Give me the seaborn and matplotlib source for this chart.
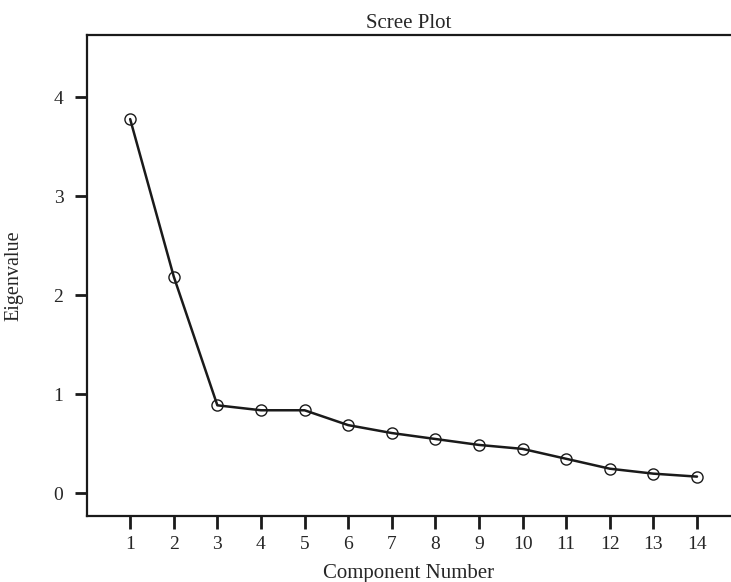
import numpy as np
import pandas as pd
import matplotlib
matplotlib.use("Agg")
import matplotlib.pyplot as plt
import seaborn as sns

components = list(range(1, 15))
eigenvalues = [3.78, 2.19, 0.89, 0.84, 0.84, 0.69, 0.61, 0.55, 0.49, 0.45, 0.35, 0.25, 0.20, 0.17]

sns.set_style("ticks")
plt.rcParams["font.family"] = ["Liberation Serif", "DejaVu Serif"]

df = pd.DataFrame({"Component Number": components, "Eigenvalue": eigenvalues})

fig = plt.figure(figsize=(7.31, 5.82), dpi=100)
ax = fig.add_axes([0.119, 0.113, 0.881, 0.827])

sns.lineplot(data=df, x="Component Number", y="Eigenvalue", ax=ax,
             color="#1a1a1a", linewidth=1.8, marker="o", markersize=8,
             markerfacecolor="none", markeredgecolor="#1a1a1a", markeredgewidth=1.0)

ax.set_xlim(0.01, 14.78)
ax.set_ylim(-0.23, 4.63)
ax.set_xticks(components)
ax.set_yticks([0, 1, 2, 3, 4])
ax.tick_params(axis="both", labelsize=14, length=9, width=2, color="#1a1a1a")
ax.tick_params(axis="x", pad=5)
ax.tick_params(axis="y", pad=8)

for side in ["left", "bottom", "top"]:
    ax.spines[side].set_linewidth(1.6)
    ax.spines[side].set_color("#1a1a1a")
ax.spines["right"].set_visible(False)

ax.set_title("Scree Plot", fontsize=15, pad=5)
ax.set_xlabel("Component Number", fontsize=15)
ax.set_ylabel("Eigenvalue", fontsize=14.5)
ax.xaxis.set_label_coords(0.5, -0.099)
ax.yaxis.set_label_coords(-0.099, 0.5)

fig.savefig("out.png", dpi=100, facecolor="white")
